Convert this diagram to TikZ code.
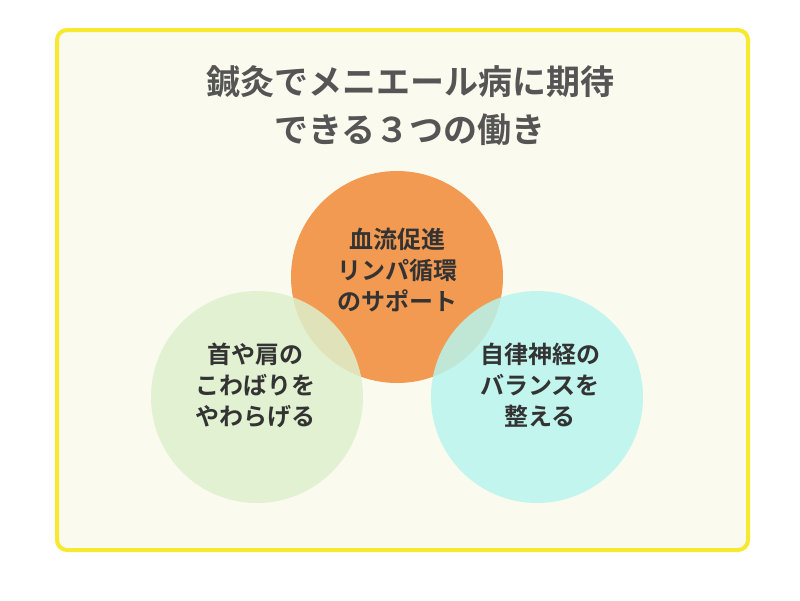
\documentclass[tikz,border=0pt]{standalone}
\usepackage{fontspec}
\newfontfamily\cjk{Noto Sans CJK JP}[BoldFont={Noto Sans CJK JP Bold}]
\definecolor{frameY}{HTML}{F7E92F}
\definecolor{bgY}{HTML}{FAFAEF}
\definecolor{titleC}{HTML}{555555}
\definecolor{orangeC}{HTML}{F39A52}
\definecolor{greenC}{HTML}{DDF0CC}
\definecolor{cyanC}{HTML}{B8F5EE}
\definecolor{txtC}{HTML}{333333}
\begin{document}
\begin{tikzpicture}[x=1pt,y=-1pt,
  title/.style={font=\cjk\bfseries\fontsize{34}{48}\selectfont,text=titleC,align=center},
  ctext/.style={font=\cjk\bfseries\fontsize{24}{31}\selectfont,text=txtC,align=center},
  circ/.style={circle,minimum size=212pt,inner sep=0pt}]
\useasboundingbox (0,0) rectangle (800,600);
\fill[white] (0,0) rectangle (800,600);
\draw[frameY,line width=4pt,fill=bgY,rounded corners=10pt] (57,30) rectangle (748,550);
\node[title] (t) at (410,106) {鍼灸でメニエール病に期待\\できる３つの働き};
\node[circ,fill=orangeC] (o) at (397,277) {};
\node[circ,fill=greenC,fill opacity=0.85] (g) at (257,397) {};
\node[circ,fill=cyanC,fill opacity=0.85] (c) at (537,397) {};
\node[ctext] (ot) at (397,270) {血流促進\\リンパ循環\\のサポート};
\node[ctext] (gt) at (255,385) {首や肩の\\こわばりを\\やわらげる};
\node[ctext] (ct) at (540,385) {自律神経の\\バランスを\\整える};
\end{tikzpicture}
\end{document}
